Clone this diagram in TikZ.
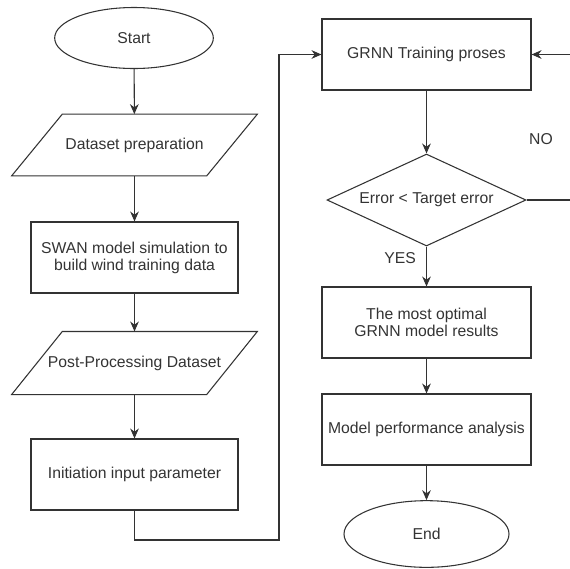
\documentclass[tikz,border=0pt]{standalone}
\usepackage{fontspec}
\setmainfont{Liberation Sans}
\usetikzlibrary{shapes.geometric,arrows.meta}

% schraeger Rahmen um einen Knoten (Ein-/Ausgabe)
\newcommand{\slantbox}[1]{%
  \draw[draw=black!80,line width=0.8pt]
    ([xshift=19pt]#1.north west) -- ([xshift=19pt]#1.north east)
    -- ([xshift=-19pt]#1.south east) -- ([xshift=-19pt]#1.south west) -- cycle;}

\begin{document}
\begin{tikzpicture}[x=0.75pt,y=0.75pt,
    every node/.style={font=\fontsize{11.8}{12.8}\selectfont,text=black!80},
    shp/.style={draw=black!80,line width=0.8pt,inner sep=0pt,align=center},
    procbox/.style={shp,minimum width=155.25pt,minimum height=53.25pt},
    iobox/.style={shp,draw=none,minimum width=145.5pt,minimum height=45.5pt},
    termbox/.style={shp,ellipse},
    flow/.style={draw=black!80,line width=0.8pt,-{Stealth[length=7.5pt,width=6.5pt]}}]
  \useasboundingbox (0,0) rectangle (570,-568);

  % linke Spalte
  \node[termbox,minimum width=119pt,minimum height=45.75pt] (start) at (134,-38) {Start};
  \node[iobox] (prep) at (134.5,-145) {Dataset preparation};
  \node[procbox] (swan) at (134.5,-257.5) {SWAN model simulation to\\build wind training data};
  \node[iobox,minimum height=46.5pt] (post) at (134.5,-363) {Post-Processing Dataset};
  \node[procbox] (init) at (134.5,-474.5) {Initiation input parameter};
  \slantbox{prep}
  \slantbox{post}

  % rechte Spalte
  \node[procbox,minimum width=156.75pt] (grnn) at (426.5,-54.5) {GRNN Training proses};
  \node[shp,diamond,aspect=2.16,minimum width=149.25pt,minimum height=69pt] (check) at (426.5,-200) {Error < Target error};
  \node[procbox,minimum width=156.75pt] (best) at (426.5,-322.5) {The most optimal\\GRNN model results};
  \node[procbox,minimum width=156.75pt] (perf) at (426.5,-429.5) {Model performance analysis};
  \node[termbox,minimum width=123.75pt,minimum height=50pt] (stop) at (426.5,-534) {End};

  \node (yes) at (400,-258) {YES};
  \node (no) at (541,-139) {NO};

  \coordinate (loopL) at (279,-540);
  \coordinate (loopR) at (571,-200);

  \draw[flow] (start) -- (prep);
  \draw[flow] (prep) -- (swan);
  \draw[flow] (swan) -- (post);
  \draw[flow] (post) -- (init);
  \draw[flow] (init.south) |- (loopL) |- (grnn.west);
  \draw[flow] (grnn) -- (check);
  \draw[flow] (check.east) -- (loopR) |- (grnn.east);
  \draw[flow] (check) -- (best);
  \draw[flow] (best) -- (perf);
  \draw[flow] (perf) -- (stop);
\end{tikzpicture}
\end{document}
